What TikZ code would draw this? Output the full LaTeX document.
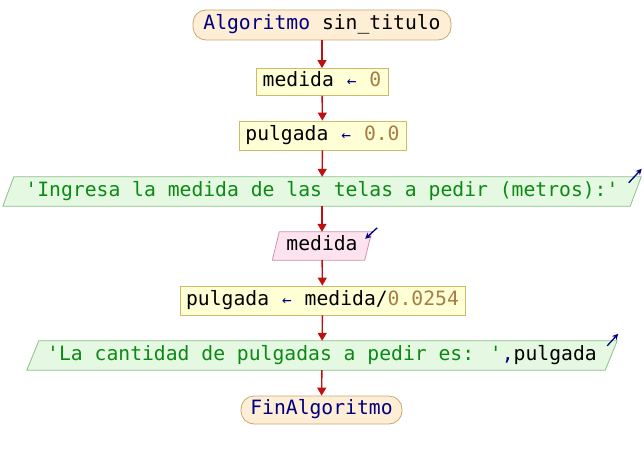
\documentclass[tikz,border=0pt]{standalone}
\usepackage{fontspec}
\newfontfamily\codefont{DejaVu Sans Mono}
\usetikzlibrary{arrows.meta,backgrounds}

% syntax colours
\definecolor{kw}{HTML}{000080}
\definecolor{num}{HTML}{A57D45}
\definecolor{str}{HTML}{0A8A14}
% shape colours
\definecolor{flow}{HTML}{BE1010}
\definecolor{termfill}{HTML}{FDEED5}
\definecolor{termline}{HTML}{C9A773}
\definecolor{procfill}{HTML}{FFFFD6}
\definecolor{procline}{HTML}{CDBB6A}
\definecolor{outfill}{HTML}{E5F8E1}
\definecolor{outline}{HTML}{8EBF8A}
\definecolor{infill}{HTML}{FDE3EE}
\definecolor{inline}{HTML}{CF8FAE}

% assignment arrow, one character cell wide
\newcommand{\asg}{\makebox[0.602em]{\color{kw}\fontsize{16}{16}\selectfont ←}}

% parallelogram behind an I/O node
\newcommand{\slantbox}[4]{%
  \begin{pgfonlayer}{background}
    \filldraw[fill=#3,draw=#4,line width=0.8pt]
      ([xshift=#2]#1.north west) -- ([xshift=#2]#1.north east) --
      ([xshift=-#2]#1.south east) -- ([xshift=-#2]#1.south west) -- cycle;
  \end{pgfonlayer}}

\tikzset{
  code/.style={font=\codefont\fontsize{19.7}{20}\selectfont,
    text height=14pt, text depth=5pt, inner sep=0pt},
  termbox/.style={code, draw=termline, fill=termfill, line width=0.8pt,
    rounded corners=13pt},
  procbox/.style={code, draw=procline, fill=procfill, line width=0.8pt},
  iobox/.style={code},
  flowarrow/.style={draw=flow, line width=1.4pt,
    -{Triangle[width=9pt,length=8pt]}},
  ioarrow/.style={draw=kw, line width=1.3pt, -{Stealth[length=6pt,width=6pt]}},
}

\begin{document}
\begin{tikzpicture}[x=1pt,y=-1pt]
\useasboundingbox (0,0) rectangle (644,460);

\node[termbox, minimum width=258pt, minimum height=30pt] (start) at (322,25)
  {{\color{kw}Algoritmo} sin\_titulo};
\node[procbox, minimum width=132pt, minimum height=27pt] (a1) at (322,82)
  {medida \asg\ {\color{num}0}};
\node[procbox, minimum width=167pt, minimum height=29pt] (a2) at (322.5,135.5)
  {pulgada \asg\ {\color{num}0.0}};
\node[iobox, minimum width=627pt, minimum height=29pt] (out1) at (322,191.5)
  {{\color{str}\textquotesingle Ingresa la medida de las telas a pedir (metros):\textquotesingle}};
\node[iobox, minimum width=92pt, minimum height=28pt] (in1) at (322,246)
  {medida};
\node[procbox, minimum width=285pt, minimum height=29pt] (a3) at (322.5,300.5)
  {pulgada \asg\ medida/{\color{num}0.0254}};
\node[iobox, minimum width=578pt, minimum height=29pt] (out2) at (322,355.5)
  {{\color{str}\textquotesingle La cantidad de pulgadas a pedir es: \textquotesingle}{\color{kw},}pulgada};
\node[termbox, minimum width=161pt, minimum height=28pt] (fin) at (321.5,410)
  {{\color{kw}FinAlgoritmo}};

\slantbox{out1}{5.5pt}{outfill}{outline}
\slantbox{in1}{3.5pt}{infill}{inline}
\slantbox{out2}{6pt}{outfill}{outline}

% output / input markers
\draw[ioarrow] ([xshift=-7pt,yshift=-6pt]out1.north east) -- ++(13,-14);
\draw[ioarrow] ([xshift=9pt,yshift=4pt]in1.north east) -- ++(-12,11);
\draw[ioarrow] ([xshift=-4pt,yshift=-5pt]out2.north east) -- ++(11,-12);

% control flow
\draw[flowarrow] (start) -- (a1);
\draw[flowarrow] (a1) -- (a2);
\draw[flowarrow] (a2) -- (out1);
\draw[flowarrow] (out1) -- (in1);
\draw[flowarrow] (in1) -- (a3);
\draw[flowarrow] (a3) -- (out2);
\draw[flowarrow] (out2) -- (fin);
\end{tikzpicture}
\end{document}
